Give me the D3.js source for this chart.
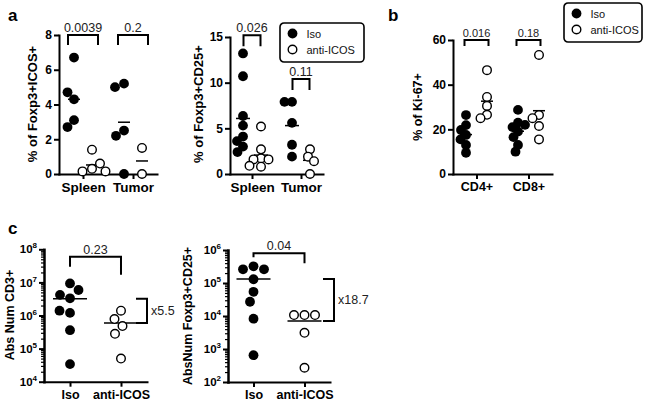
<!DOCTYPE html>
<html><head><meta charset="utf-8">
<script src="https://cdn.jsdelivr.net/npm/d3@7"></script>
<style>
body{margin:0;background:#fff;}
svg{display:block;font-family:"Liberation Sans",Arial,Helvetica,sans-serif;}
</style></head><body>
<svg id="chart" width="654" height="404"></svg>
<script>
// ---------------- DATA ----------------
const treatments = ["Iso", "anti-ICOS"];
const tissues = ["Spleen", "Tumor"];
const cellTypes = ["CD4+", "CD8+"];

// Panel a (left): % of Foxp3+ICOS+
const icosIsoSpleen  = [6.7, 4.3, 4.7, 3.1, 2.7];
const icosAntiSpleen = [1.4, 0.3, 0.15, 0.6, 0.15];
const icosIsoTumor   = [5.2, 5.0, 2.5, 2.2, 0];
const icosAntiTumor  = [1.5, 0];
const icosTicks = [0, 2, 4, 6, 8];
const icosP = ["0.0039", "0.2"];

// Panel a (right): % of Foxp3+CD25+
const cd25IsoSpleen  = [13.2, 10.7, 6.35, 5.3, 4.1, 3.6, 3.0, 2.4];
const cd25AntiSpleen = [5.2, 2.7, 1.7, 1.6, 1.6, 0.8, 0.9];
const cd25IsoTumor   = [7.9, 7.9, 5.6, 3.2, 1.9];
const cd25AntiTumor  = [2.7, 1.9, 1.4, 0];
const cd25Ticks = [0, 5, 10, 15];
const cd25P = ["0.026", "0.11"];
const cd25BracketAt = [15.2, 10.4];

// Panel b: % of Ki-67+
const kiIsoCD4  = [26.4, 21.9, 19.7, 17.5, 15.5, 13, 9.5];
const kiAntiCD4 = [46.5, 34.5, 30.5, 26.5, 25];
const kiIsoCD8  = [28.7, 23, 21, 22, 19, 16.5, 13, 10];
const kiAntiCD8 = [53.3, 26.4, 25, 21.5, 15.5];
const kiTicks = [0, 20, 40, 60];
const kiP = ["0.016", "0.18"];

// Panel c (left): Abs Num CD3+
const cd3Iso  = [9.3e6, 3.3e6, 4.2e6, 5.9e6, 1.2e6, 1.4e6, 3.6e5, 3.4e4];
const cd3Anti = [1.4e6, 7.8e5, 4.8e5, 2.8e5, 5e4];
const cd3Ticks = [1e4, 1e5, 1e6, 1e7, 1e8];
const cd3P = "0.23";
const cd3Fold = "x5.5";

// Panel c (right): AbsNum Foxp3+CD25+
const tregIso  = [3.2e5, 1.3e5, 2.6e5, 2.6e5, 5.4e4, 2.7e4, 8.3e3, 650];
const tregAnti = [1.07e4, 1.07e4, 1.07e4, 3.1e3, 270];
const tregTicks = [1e2, 1e3, 1e4, 1e5, 1e6];
const tregP = "0.04";
const tregFold = "x18.7";

// ---------------- DRAWING ----------------
const svg = d3.select("#chart");
const R = 4.9;

function swarm(vals, y, mind) {
  const placed = [];
  return vals.map(v => {
    const py = y(v);
    let dx = 0;
    for (let k = 0; k < 400; k++) {
      const cands = k === 0 ? [0] : [-k * 0.5, k * 0.5];
      let ok = null;
      for (const c of cands) {
        if (placed.every(p => Math.hypot(p.dx - c, p.y - py) >= mind)) { ok = c; break; }
      }
      if (ok !== null) { dx = ok; break; }
    }
    placed.push({dx, y: py});
    return {v, dx, y: py};
  });
}

function drawDots(g, cx, vals, y, filled, mind) {
  swarm(vals, y, mind).forEach(p => {
    g.append("circle").attr("cx", cx + p.dx).attr("cy", p.y).attr("r", filled ? R : R - 0.6)
      .attr("fill", filled ? "#000" : "#fff").attr("stroke", "#000").attr("stroke-width", filled ? 0 : 1.4);
  });
}

function meanLine(g, cx, vals, y, w) {
  const m = d3.mean(vals);
  g.append("line").attr("x1", cx - w / 2).attr("x2", cx + w / 2)
    .attr("y1", y(m)).attr("y2", y(m)).attr("stroke", "#000").attr("stroke-width", 1.5);
}

function styleAxis(sel, fs) {
  sel.select(".domain").attr("stroke", "#000").attr("stroke-width", 2).attr("stroke-linecap", "square");
  sel.selectAll(".tick line").attr("stroke", "#000").attr("stroke-width", 2);
  sel.selectAll(".tick text").attr("fill", "#000").attr("font-size", fs).attr("font-weight", "bold")
    .attr("font-family", "Liberation Sans, Arial, sans-serif");
}

function yTitle(text, x, y, fs) {
  svg.append("text").attr("transform", `translate(${x},${y}) rotate(-90)`)
    .attr("text-anchor", "middle").attr("font-size", fs).attr("font-weight", "bold").text(text);
}

function bracket(g, xa, xb, yTop, legA, legB, label, fs) {
  g.append("path").attr("d", `M${xa},${yTop + legA}V${yTop}H${xb}V${yTop + legB}`)
    .attr("fill", "none").attr("stroke", "#000").attr("stroke-width", 2);
  g.append("text").attr("x", (xa + xb) / 2).attr("y", yTop - 3).attr("text-anchor", "middle")
    .attr("font-size", fs).attr("fill", "#222").text(label);
}

function linearPanel(o) {
  const g = svg.append("g");
  const y = d3.scaleLinear().domain([0, o.ticks[o.ticks.length - 1]]).range([174, o.yTop]);
  const x = d3.scalePoint().domain(o.cats).range([o.x0, o.x1]).padding(o.pad);
  const ya = g.append("g").attr("transform", `translate(${o.x0},0)`)
    .call(d3.axisLeft(y).tickValues(o.ticks).tickSize(5).tickSizeOuter(0).tickPadding(2).tickFormat(d3.format("d")));
  styleAxis(ya, 12);
  const xa = g.append("g").attr("transform", `translate(0,174)`)
    .call(d3.axisBottom(x).tickSize(5).tickSizeOuter(0).tickPadding(3));
  styleAxis(xa, o.xfs);
  o.groups.forEach((grp, i) => {
    const c = x(o.cats[i]);
    meanLine(g, c - o.sub, grp[0], y, o.meanW);
    meanLine(g, c + o.sub, grp[1], y, o.meanW);
    drawDots(g, c - o.sub, grp[0], y, true, o.mind);
    drawDots(g, c + o.sub, grp[1], y, false, o.mind);
    bracket(g, c - o.bh, c + o.bh, y(o.bAt[i]), o.leg, o.leg, o.pLabels[i], o.pfs);
  });
  return g;
}

// Panel a left
linearPanel({x0: 59, x1: 157, pad: 0.48, yTop: 35, ticks: icosTicks, cats: tissues,
  groups: [[icosIsoSpleen, icosAntiSpleen], [icosIsoTumor, icosAntiTumor]],
  sub: 9, mind: 9.5, meanW: 12, bh: 15, bAt: [8, 8], leg: 10, pLabels: icosP, pfs: 12.5, xfs: 13.5});
yTitle("% of Foxp3+ICOS+", 37, 104, 13);

// Panel a right
linearPanel({x0: 230, x1: 323, pad: 0.449, yTop: 37, ticks: cd25Ticks, cats: tissues,
  groups: [[cd25IsoSpleen, cd25AntiSpleen], [cd25IsoTumor, cd25AntiTumor]],
  sub: 9, mind: 7.5, meanW: 14, bh: 8.5, bAt: cd25BracketAt, leg: 11, pLabels: cd25P, pfs: 12.5, xfs: 13.5});
yTitle("% of Foxp3+CD25+", 203, 104, 13);

// Panel b
linearPanel({x0: 453, x1: 552, pad: 0.452, yTop: 40, ticks: kiTicks, cats: cellTypes,
  groups: [[kiIsoCD4, kiAntiCD4], [kiIsoCD8, kiAntiCD8]],
  sub: 10.5, mind: 7, meanW: 12, bh: 12, bAt: [60, 60], leg: 6, pLabels: kiP, pfs: 11, xfs: 12.5});
yTitle("% of Ki-67+", 422, 107, 12.5);

// Legends
function legend(x, y, w, h) {
  const g = svg.append("g").attr("transform", `translate(${x},${y})`);
  g.append("rect").attr("width", w).attr("height", h).attr("rx", 4).attr("fill", "#fff")
    .attr("stroke", "#000").attr("stroke-width", 1.6);
  treatments.forEach((t, i) => {
    const cy = 10.5 + i * 16;
    g.append("circle").attr("cx", 12.5).attr("cy", cy).attr("r", i === 0 ? R : R - 0.6)
      .attr("fill", i === 0 ? "#000" : "#fff").attr("stroke", "#000").attr("stroke-width", i === 0 ? 0 : 1.4);
    g.append("text").attr("x", 26.5).attr("y", cy + 4).attr("font-size", 11).attr("fill", "#111").text(t);
  });
}
legend(280, 23, 84, 39);
legend(564, 3, 78, 39);

// Log panels
function supFormat(sel) {
  sel.selectAll(".tick text").each(function(d) {
    const t = d3.select(this); const e = Math.round(Math.log10(d));
    t.text(""); t.append("tspan").text("10");
    t.append("tspan").attr("dy", -5).attr("font-size", 8).text(e);
  });
}

function logPanel(o) {
  const g = svg.append("g");
  const y = d3.scaleLog().domain([o.ticks[0], o.ticks[o.ticks.length - 1]]).range([o.yBot, o.yTop]);
  const x = d3.scalePoint().domain(treatments).range([o.x0, o.x1]).padding(o.pad);
  const minors = [];
  for (let i = 0; i < o.ticks.length - 1; i++) for (let m = 2; m <= 9; m++) minors.push(o.ticks[i] * m);
  g.append("g").attr("transform", `translate(${o.x0},0)`)
    .call(d3.axisLeft(y).tickValues(minors).tickSize(3).tickFormat(""))
    .call(s => { s.select(".domain").remove(); s.selectAll(".tick line").attr("stroke", "#000").attr("stroke-width", 1.2); });
  const ya = g.append("g").attr("transform", `translate(${o.x0},0)`)
    .call(d3.axisLeft(y).tickValues(o.ticks).tickSize(5).tickSizeOuter(0).tickPadding(2).tickFormat(d => d));
  styleAxis(ya, 11.5);
  supFormat(ya);
  ya.select(".domain").attr("stroke-width", 2.5);
  const xa = g.append("g").attr("transform", `translate(0,${o.yBot})`)
    .call(d3.axisBottom(x).tickSize(5).tickSizeOuter(0).tickPadding(3));
  styleAxis(xa, 12.5);
  const ci = x(treatments[0]), ca = x(treatments[1]);
  meanLine(g, ci, o.iso, y, 34);
  meanLine(g, ca, o.anti, y, 34);
  drawDots(g, ci, o.iso, y, true, o.mind);
  drawDots(g, ca, o.anti, y, false, o.mind);
  bracket(g, ci, ca, y(o.bAt), o.legA, o.legB, o.p, 12.5);
  const y1 = y(d3.mean(o.iso)), y2 = y(d3.mean(o.anti));
  g.append("path").attr("d", `M${o.fx - 11},${y1}H${o.fx}V${y2}H${o.fx - 11}`)
    .attr("fill", "none").attr("stroke", "#000").attr("stroke-width", 2);
  g.append("text").attr("x", o.fx + 4).attr("y", (y1 + y2) / 2 + 4.5).attr("font-size", 12.5)
    .attr("fill", "#222").text(o.fold);
}

logPanel({x0: 44, x1: 147, pad: 0.51, yTop: 249.3, yBot: 381.7, ticks: cd3Ticks,
  iso: cd3Iso, anti: cd3Anti, mind: 10.5, bAt: 6e7, legA: 10, legB: 18, p: cd3P, fx: 147, fold: cd3Fold});
yTitle("Abs Num CD3+", 14, 315, 12.5);

logPanel({x0: 228, x1: 330, pad: 0.5, yTop: 250, yBot: 382, ticks: tregTicks,
  iso: tregIso, anti: tregAnti, mind: 10.5, bAt: 8e5, legA: 4, legB: 10, p: tregP, fx: 334, fold: tregFold});
yTitle("AbsNum Foxp3+CD25+", 192, 316, 12.5);

// Panel letters
[["a", 8, 21], ["b", 388, 21], ["c", 8, 234]].forEach(([t, x, y]) =>
  svg.append("text").attr("x", x).attr("y", y).attr("font-size", 17).attr("font-weight", "bold").text(t));
</script>
</body></html>
